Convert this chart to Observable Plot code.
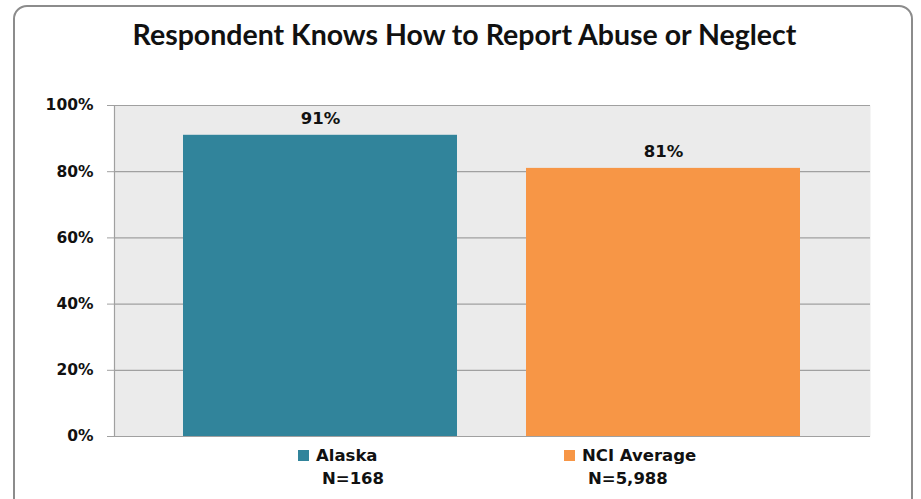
<!DOCTYPE html>
<html>
<head>
<meta charset="utf-8">
<script src="https://cdn.jsdelivr.net/npm/d3@7"></script>
<script src="https://cdn.jsdelivr.net/npm/@observablehq/plot@0.6"></script>
<style>
  html, body { margin: 0; padding: 0; background: #fff; }
  #wrap { position: relative; width: 921px; height: 499px; overflow: hidden; }
  #border { position: absolute; left: 13px; top: 5px; width: 900px; height: 510px;
            border: 2px solid #8c8c8c; border-radius: 14px; box-sizing: border-box; }
  #title { position: absolute; left: 13px; width: 903px; top: 17px; text-align: center;
           font-family: Lato, "Open Sans", sans-serif; font-weight: 700; font-size: 28.5px; color: #111; }
  #chart { position: absolute; left: 0; top: 0; }
  .leg { position: absolute; font-family: "DejaVu Sans", Verdana, sans-serif; font-weight: 700;
         font-size: 16.5px; color: #111; line-height: 23px; }
  .sw { display: inline-block; width: 11px; height: 11px; margin-right: 7px; vertical-align: 0px; }
</style>
</head>
<body>
<div id="wrap">
  <div id="border"></div>
  <div id="title"></div>
  <div id="chart"></div>
  <div id="legend"></div>
</div>
<script>
const title = "Respondent Knows How to Report Abuse or Neglect";
const categories = ["Alaska", "NCI Average"];
const values = [91, 81];
const sampleSizes = ["N=168", "N=5,988"];
const colors = ["#31849b", "#f79646"];
const yTicks = [0, 20, 40, 60, 80, 100];

const data = categories.map((c, i) => ({category: c, value: values[i], n: sampleSizes[i], color: colors[i]}));

document.getElementById("title").textContent = title;

const plot = Plot.plot({
  width: 921,
  height: 499,
  marginLeft: 114,
  marginRight: 51,
  marginTop: 105,
  marginBottom: 63,
  style: {background: "transparent", fontFamily: "DejaVu Sans, Verdana, sans-serif", color: "#111"},
  x: {type: "band", domain: categories, padding: 0.2, axis: null},
  y: {domain: [0, 100], ticks: yTicks},
  marks: [
    Plot.frame({fill: "#ebebeb", stroke: null}),
    Plot.gridY(yTicks, {stroke: "#a0a0a0", strokeOpacity: 1, strokeWidth: 1.2}),
    Plot.axisY(yTicks, {tickSize: 7, tickPadding: 14, stroke: "#a0a0a0", tickFormat: d => d + "%",
      fontSize: 15.5, fontWeight: "bold", label: null}),
    Plot.frame({anchor: "left", stroke: "#a0a0a0", strokeWidth: 1.2}),
    Plot.barY(data, {x: "category", y: "value", fill: "color"}),
    Plot.text(data, {x: "category", y: "value", text: d => d.value + "%", dy: -17,
      fontSize: 16.5, fontWeight: "bold", fill: "#111"})
  ]
});
document.getElementById("chart").appendChild(plot);

// legend below the plot, positioned under each bar using the plot's x scale
const xs = plot.scale("x");
const legend = document.getElementById("legend");
data.forEach((d, i) => {
  const cx = xs.apply(d.category) + xs.bandwidth / 2;
  const el = document.createElement("div");
  el.className = "leg";
  el.style.left = (i === 0 ? cx - 22 : cx - 99) + "px";
  el.style.top = "444px";
  el.innerHTML = `<span class="sw" style="background:${d.color}"></span>${d.category}<br><span style="padding-left:24px">${d.n}</span>`;
  legend.appendChild(el);
});
</script>
</body>
</html>
